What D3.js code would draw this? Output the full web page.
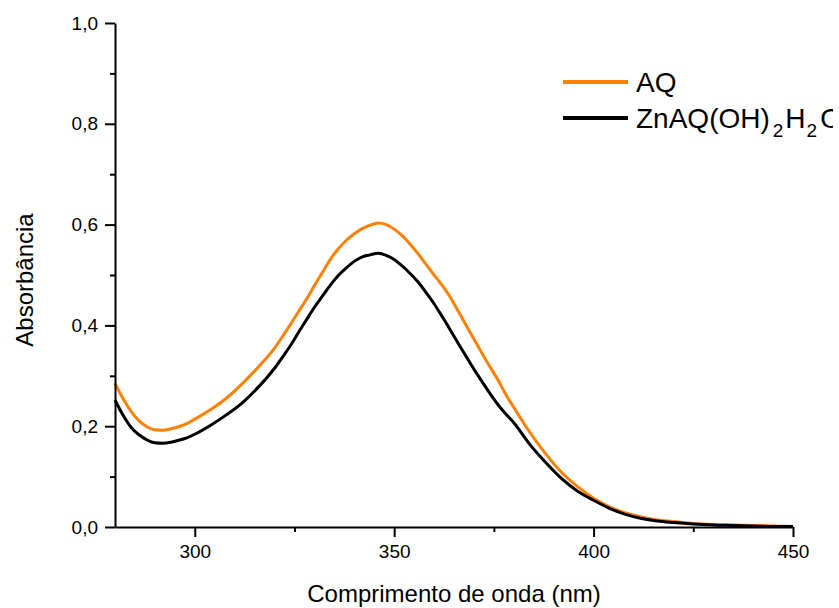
<!DOCTYPE html>
<html><head><meta charset="utf-8">
<script src="https://cdn.jsdelivr.net/npm/d3@7"></script>
<style>
html,body{margin:0;padding:0;background:#fff;}
svg{display:block;font-family:"Liberation Sans",Arial,sans-serif;}
</style></head>
<body>
<svg id="chart" width="839" height="608"></svg>
<script>
const wavelengths = [280,282,284,286,288,290,292,294,296,298,300,304,308,312,316,320,322,324,326,328,330,332,334,336,338,340,342,344,346,348,350,352,354,356,358,360,362,364,366,368,370,372,374,376,378,380,384,388,392,396,400,404,408,412,416,420,425,430,435,440,445,450];
const aqValues = [0.285,0.255,0.230,0.211,0.199,0.193,0.192,0.195,0.199,0.205,0.214,0.233,0.256,0.285,0.318,0.355,0.378,0.402,0.427,0.452,0.479,0.505,0.531,0.552,0.569,0.582,0.592,0.599,0.603,0.600,0.591,0.578,0.561,0.542,0.521,0.500,0.480,0.457,0.429,0.401,0.373,0.345,0.318,0.292,0.263,0.237,0.188,0.145,0.108,0.080,0.057,0.040,0.028,0.020,0.014,0.011,0.007,0.005,0.004,0.003,0.002,0.001];
const znValues = [0.252,0.222,0.198,0.183,0.173,0.167,0.166,0.168,0.172,0.177,0.184,0.202,0.223,0.247,0.278,0.315,0.337,0.360,0.386,0.411,0.436,0.458,0.480,0.499,0.514,0.527,0.536,0.540,0.543,0.539,0.531,0.518,0.503,0.486,0.465,0.443,0.418,0.392,0.365,0.339,0.313,0.289,0.265,0.243,0.224,0.207,0.164,0.128,0.096,0.071,0.053,0.037,0.025,0.017,0.012,0.009,0.006,0.004,0.003,0.002,0.001,0.001];
const seriesNames = ["AQ","ZnAQ(OH)2H2O"];
const seriesColors = ["#ff8000","#000000"];
const xMajorTicks = [300,350,400,450];
const xMinorTicks = [325,375,425];
const yMajorTicks = [0,0.2,0.4,0.6,0.8,1.0];
const yMinorTicks = [0.1,0.3,0.5,0.7,0.9];
const xTitle = "Comprimento de onda (nm)";
const yTitle = "Absorbância";

const svg = d3.select("#chart");
const x = d3.scaleLinear().domain([280,450]).range([115,793]);
const y = d3.scaleLinear().domain([0,1]).range([527,23]);
const fmt = d => d3.format(".1f")(d).replace(".", ",");

svg.append("defs").append("clipPath").attr("id","pageclip")
  .append("rect").attr("x",0).attr("y",0).attr("width",833).attr("height",608);

// data lines
const series = [aqValues, znValues];
const line = d3.line().x((d,i)=>x(wavelengths[i])).y(d=>y(d)).curve(d3.curveMonotoneX);
series.forEach((vals,k)=>{
  svg.append("path").datum(vals).attr("d", line)
    .attr("fill","none").attr("stroke", seriesColors[k]).attr("stroke-width",3)
    .attr("stroke-linejoin","round");
});

// x axis
const gx = svg.append("g").attr("transform","translate(0,527)");
gx.call(d3.axisBottom(x).tickValues(xMajorTicks).tickSize(10).tickPadding(8).tickFormat(d3.format("d")).tickSizeOuter(0));
gx.append("g").call(d3.axisBottom(x).tickValues(xMinorTicks).tickSize(5).tickFormat("").tickSizeOuter(0)).select(".domain").remove();
// y axis
const gy = svg.append("g").attr("transform","translate(115,0)");
gy.call(d3.axisLeft(y).tickValues(yMajorTicks).tickSize(10).tickPadding(7).tickFormat(fmt).tickSizeOuter(0));
gy.append("g").call(d3.axisLeft(y).tickValues(yMinorTicks).tickSize(5).tickFormat("").tickSizeOuter(0)).select(".domain").remove();

svg.selectAll(".domain").attr("stroke","#000").attr("stroke-width",2);
svg.selectAll(".tick line").attr("stroke","#000").attr("stroke-width",2);
svg.selectAll(".tick text").attr("font-size",19).attr("fill","#000").attr("font-family","Liberation Sans, Arial, sans-serif");

// titles
svg.append("text").attr("x",454).attr("y",602).attr("text-anchor","middle")
  .attr("font-size",24).text(xTitle);
svg.append("text").attr("transform","translate(33,280) rotate(-90)").attr("text-anchor","middle")
  .attr("font-size",24).text(yTitle);

// legend
const legendY = [82,118];
const lg = svg.append("g").attr("clip-path","url(#pageclip)");
seriesNames.forEach((name,k)=>{
  lg.append("line").attr("x1",563).attr("x2",628).attr("y1",legendY[k]).attr("y2",legendY[k])
    .attr("stroke",seriesColors[k]).attr("stroke-width",4);
  const t = lg.append("text").attr("x",636).attr("y",legendY[k]+10).attr("font-size",28);
  if(k===0){ t.text(name); }
  else {
    t.append("tspan").text("ZnAQ(OH)");
    t.append("tspan").attr("font-size",19).attr("dx",3).attr("dy",9).text("2");
    t.append("tspan").attr("dx",2).attr("dy",-9).text("H");
    t.append("tspan").attr("font-size",19).attr("dx",1).attr("dy",9).text("2");
    t.append("tspan").attr("dx",3).attr("dy",-9).text("O");
  }
});
</script>
</body></html>
